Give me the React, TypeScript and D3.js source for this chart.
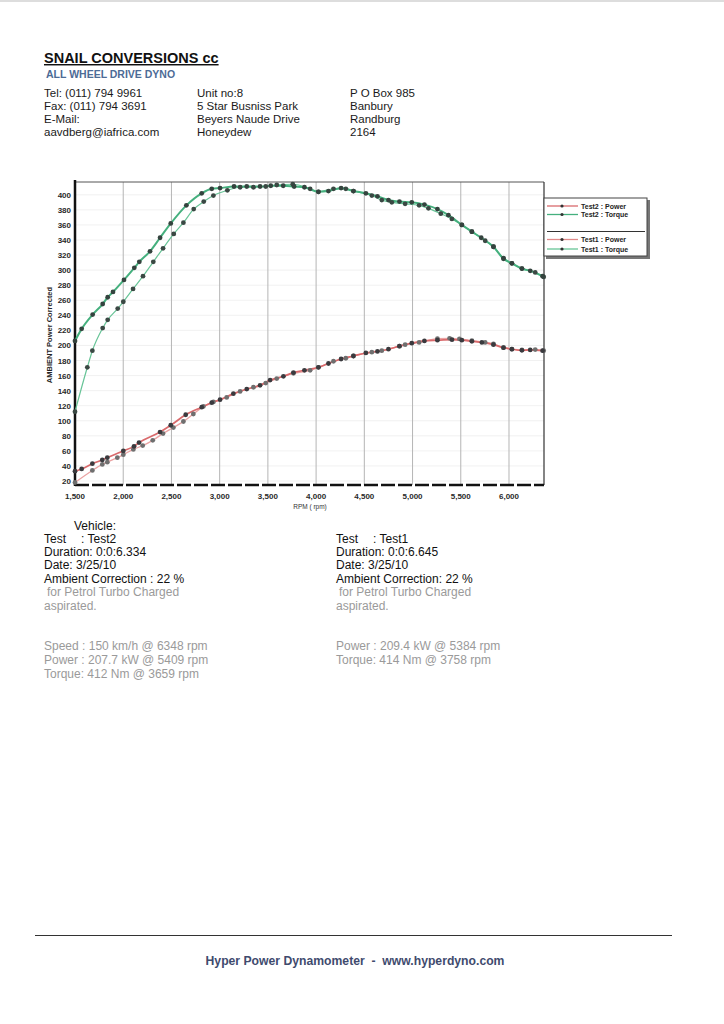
import React, { useEffect, useRef } from 'react';
import * as d3 from 'd3';

// [rpm, value] pairs
const test2Power: [number, number][] = [
  [1500, 33], [1569, 36], [1680, 43], [1783, 48], [1835, 51], [2001, 60], [2112, 66], [2164, 71],
  [2382, 85], [2493, 94], [2648, 108], [2814, 118], [2918, 124], [3004, 128], [3142, 136],
  [3281, 142], [3419, 147], [3523, 154], [3661, 159], [3765, 164], [3879, 167], [4024, 171],
  [4128, 176], [4259, 182], [4387, 186], [4516, 190], [4636, 192], [4750, 195], [4864, 199],
  [4992, 203], [5123, 206], [5258, 207], [5409, 207.7], [5511, 207], [5615, 205.5], [5719, 204],
  [5839, 201], [5943, 197], [6030, 195], [6134, 193.5], [6220, 194], [6348, 193],
];

const test2Torque: [number, number][] = [
  [1500, 206], [1569, 222], [1683, 241], [1787, 255], [1839, 264], [1894, 271], [2008, 287],
  [2115, 303], [2167, 311], [2278, 325], [2382, 343], [2493, 362], [2655, 386], [2814, 402],
  [2918, 408], [3004, 409], [3149, 411], [3281, 411], [3419, 411], [3530, 412], [3659, 412],
  [3772, 411], [3879, 410], [4024, 404], [4128, 405], [4259, 409], [4387, 405], [4516, 402],
  [4636, 398], [4750, 393], [4864, 391], [4992, 390], [5123, 387], [5258, 381], [5372, 373],
  [5511, 360], [5615, 351], [5712, 343], [5839, 331], [5943, 315], [6030, 309], [6134, 302],
  [6220, 299], [6348, 292],
];

const test1Power: [number, number][] = [
  [1500, 18], [1680, 34], [1783, 42], [1835, 45], [1939, 51], [2001, 55], [2105, 62], [2202, 67],
  [2306, 74], [2413, 83], [2520, 91], [2624, 99], [2727, 109], [2831, 119], [2935, 125],
  [3073, 131], [3212, 139], [3350, 144.5], [3478, 150], [3592, 156], [3765, 163], [3938, 167],
  [4024, 171], [4180, 179], [4308, 183], [4387, 186], [4578, 191], [4681, 193], [4864, 199],
  [4923, 201], [5068, 204], [5258, 209], [5384, 209.4], [5486, 208.7], [5615, 206.4],
  [5753, 204], [5839, 202], [5943, 197], [6030, 195], [6134, 194], [6272, 194.5], [6360, 193],
];

const test1Torque: [number, number][] = [
  [1500, 112], [1628, 171], [1680, 193], [1787, 223], [1839, 234], [1943, 249], [2001, 258],
  [2102, 275], [2205, 292], [2312, 311], [2413, 329], [2524, 348], [2624, 363], [2731, 381],
  [2835, 391], [2935, 399], [3080, 406], [3212, 410], [3350, 410], [3478, 411], [3592, 413],
  [3758, 414], [3938, 408], [4024, 404], [4180, 408], [4308, 408], [4387, 405], [4578, 399],
  [4681, 393], [4785, 390], [4923, 388], [5068, 386], [5165, 382], [5293, 375], [5408, 368],
  [5511, 360], [5615, 351], [5753, 339], [5839, 331], [5943, 316], [6030, 309], [6134, 302],
  [6272, 297], [6360, 291],
];

const rpmTicks = [1500, 2000, 2500, 3000, 3500, 4000, 4500, 5000, 5500, 6000];
const yTicks = d3.range(20, 401, 20);

const legendItems = ['Test2 : Power', 'Test2 : Torque', 'Test1 : Power', 'Test1 : Torque'];

const contactCol1 = ['Tel: (011) 794 9961', 'Fax: (011) 794 3691', 'E-Mail:', 'aavdberg@iafrica.com'];
const contactCol2 = ['Unit no:8', '5 Star Busniss Park', 'Beyers Naude Drive', 'Honeydew'];
const contactCol3 = ['P O Box 985', 'Banbury', 'Randburg', '2164'];

const test2Info = ['Duration: 0:0:6.334', 'Date:  3/25/10', 'Ambient Correction : 22 %'];
const test1Info = ['Duration: 0:0:6.645', 'Date:  3/25/10', 'Ambient Correction: 22 %'];
const test2Peaks = ['Speed : 150 km/h @ 6348 rpm', 'Power : 207.7 kW @ 5409 rpm', 'Torque: 412 Nm @ 3659 rpm'];
const test1Peaks = ['Power : 209.4 kW @ 5384 rpm', 'Torque: 414 Nm @ 3758 rpm'];

const App: React.FC = () => {
  const svgRef = useRef<SVGSVGElement | null>(null);

  useEffect(() => {
    const svg = d3.select(svgRef.current);
    svg.selectAll('*').remove();

    const font = 'Arial, "Liberation Sans", sans-serif';
    svg.attr('font-family', font);

    // page header
    svg.append('line').attr('x1', 0).attr('x2', 724).attr('y1', 1).attr('y2', 1)
      .attr('stroke', '#bbb');

    svg.append('text').attr('x', 44).attr('y', 63).attr('font-size', 14.5).attr('font-weight', 'bold')
      .attr('fill', '#111').attr('text-decoration', 'underline').text('SNAIL CONVERSIONS cc');
    svg.append('text').attr('x', 46).attr('y', 78).attr('font-size', 10.5).attr('font-weight', 'bold')
      .attr('fill', '#4d6b96').text('ALL WHEEL DRIVE DYNO');

    const cols: [number, string[]][] = [[44, contactCol1], [197, contactCol2], [350, contactCol3]];
    cols.forEach(([x, lines]) => {
      lines.forEach((t, i) => {
        svg.append('text').attr('x', x).attr('y', 97 + i * 13).attr('font-size', 11.5)
          .attr('fill', '#1a1a1a').text(t);
      });
    });

    // chart
    const left = 75, right = 544, top = 182, bottom = 485;
    const x = d3.scaleLinear().domain([1500, 6363]).range([left, right]);
    const y = d3.scaleLinear().domain([14.7, 417]).range([bottom, top]);

    const g = svg.append('g');

    g.selectAll('.hgrid').data(yTicks).enter().append('line')
      .attr('x1', left).attr('x2', right)
      .attr('y1', d => y(d)).attr('y2', d => y(d))
      .attr('stroke', '#ededed').attr('stroke-width', 0.8);

    g.selectAll('.vgrid').data(rpmTicks.slice(1)).enter().append('line')
      .attr('x1', d => x(d)).attr('x2', d => x(d))
      .attr('y1', top).attr('y2', bottom)
      .attr('stroke', '#b5b5b5').attr('stroke-width', 1);

    // frame
    g.append('line').attr('x1', left).attr('x2', right).attr('y1', top).attr('y2', top)
      .attr('stroke', '#555').attr('stroke-width', 1);
    g.append('line').attr('x1', right).attr('x2', right).attr('y1', top).attr('y2', bottom)
      .attr('stroke', '#333').attr('stroke-width', 1.2);
    g.append('line').attr('x1', left).attr('x2', left).attr('y1', top - 2).attr('y2', bottom + 1)
      .attr('stroke', '#111').attr('stroke-width', 2.5);
    g.append('line').attr('x1', left).attr('x2', right).attr('y1', bottom).attr('y2', bottom)
      .attr('stroke', '#111').attr('stroke-width', 2.5).attr('stroke-dasharray', '14,3');

    // y ticks
    g.selectAll('.ylab').data(yTicks).enter().append('text')
      .attr('x', left - 4).attr('y', d => y(d) + 3).attr('text-anchor', 'end')
      .attr('font-size', 8).attr('font-weight', 'bold').attr('fill', '#2a2a2a')
      .text(d => d);

    // x ticks
    const fmt = d3.format(',');
    g.selectAll('.xlab').data(rpmTicks).enter().append('text')
      .attr('x', d => x(d)).attr('y', bottom + 14).attr('text-anchor', 'middle')
      .attr('font-size', 8).attr('font-weight', 'bold').attr('fill', '#2a2a2a')
      .text(d => fmt(d));

    g.append('text').attr('x', 310).attr('y', bottom + 24).attr('text-anchor', 'middle')
      .attr('font-size', 6.5).attr('fill', '#333').text('RPM ( rpm)');

    g.append('text').attr('transform', `translate(52,335) rotate(-90)`).attr('text-anchor', 'middle')
      .attr('font-size', 7.5).attr('font-weight', 'bold').attr('fill', '#222')
      .text('AMBIENT Power Corrected');

    const line = d3.line<[number, number]>()
      .x(d => x(d[0])).y(d => y(d[1]))
      .curve(d3.curveMonotoneX);

    const series = [
      { data: test1Power, color: '#eaa3a3', width: 1.3, dot: '#6f6f6f' },
      { data: test1Torque, color: '#67c497', width: 1.2, dot: '#3a4843' },
      { data: test2Power, color: '#d96a6c', width: 1.7, dot: '#3a3a3e' },
      { data: test2Torque, color: '#45b07e', width: 2, dot: '#34433e' },
    ];

    series.forEach(s => {
      g.append('path').datum(s.data).attr('d', line).attr('fill', 'none')
        .attr('stroke', s.color).attr('stroke-width', s.width);
    });
    series.forEach(s => {
      g.selectAll(null).data(s.data).enter().append('circle')
        .attr('cx', d => x(d[0])).attr('cy', d => y(d[1])).attr('r', 2.4)
        .attr('fill', s.dot);
    });

    // legend
    const lg = svg.append('g');
    lg.append('rect').attr('x', 546).attr('y', 200).attr('width', 104).attr('height', 59)
      .attr('fill', '#777');
    lg.append('rect').attr('x', 544).attr('y', 198).attr('width', 103).attr('height', 58)
      .attr('fill', '#fff').attr('stroke', '#444').attr('stroke-width', 1);
    lg.append('line').attr('x1', 547).attr('x2', 645).attr('y1', 231.5).attr('y2', 231.5)
      .attr('stroke', '#333').attr('stroke-width', 1);
    const legendY = [206, 214.5, 239.5, 249];
    const legendColors = ['#d96a6c', '#45b07e', '#e08a8a', '#67c497'];
    legendItems.forEach((t, i) => {
      lg.append('line').attr('x1', 547).attr('x2', 578).attr('y1', legendY[i]).attr('y2', legendY[i])
        .attr('stroke', legendColors[i]).attr('stroke-width', 1.3);
      lg.append('circle').attr('cx', 562).attr('cy', legendY[i]).attr('r', 1.6).attr('fill', '#333');
      lg.append('text').attr('x', 581).attr('y', legendY[i] + 2.5).attr('font-size', 7)
        .attr('font-weight', 'bold').attr('fill', '#222').text(t);
    });

    // test summaries
    const info = svg.append('g').attr('font-size', 12);
    info.append('text').attr('x', 74).attr('y', 530).attr('fill', '#111').text('Vehicle:');

    const block = (x0: number, colonX: number, name: string, lines: string[], peaks: string[], x1: number) => {
      info.append('text').attr('x', x0).attr('y', 542.5).attr('fill', '#111').text('Test');
      info.append('text').attr('x', colonX).attr('y', 542.5).attr('fill', '#111').text(`: ${name}`);
      lines.forEach((t, i) => {
        info.append('text').attr('x', x0).attr('y', 556 + i * 13.4).attr('fill', '#111').text(t);
      });
      info.append('text').attr('x', x1).attr('y', 596).attr('fill', '#9a9a9a').text('for Petrol Turbo Charged');
      info.append('text').attr('x', x0).attr('y', 609.5).attr('fill', '#9a9a9a').text('aspirated.');
      peaks.forEach((t, i) => {
        info.append('text').attr('x', x0).attr('y', 650 + i * 14).attr('fill', '#9a9a9a').text(t);
      });
    };
    block(44, 81, 'Test2', test2Info, test2Peaks, 47);
    block(336, 373, 'Test1', test1Info, test1Peaks, 339);

    // footer
    svg.append('line').attr('x1', 35).attr('x2', 672).attr('y1', 935.5).attr('y2', 935.5)
      .attr('stroke', '#333').attr('stroke-width', 1.2);
    svg.append('text').attr('x', 355).attr('y', 965).attr('text-anchor', 'middle')
      .attr('font-size', 12.2).attr('font-weight', 'bold').attr('fill', '#3f4b6e')
      .attr('xml:space', 'preserve')
      .text('Hyper Power Dynamometer  -  www.hyperdyno.com');
  }, []);

  return (
    <svg
      ref={svgRef}
      width={724}
      height={1024}
      style={{ position: 'absolute', left: 0, top: 0, background: '#fff' }}
    />
  );
};

export default App;
